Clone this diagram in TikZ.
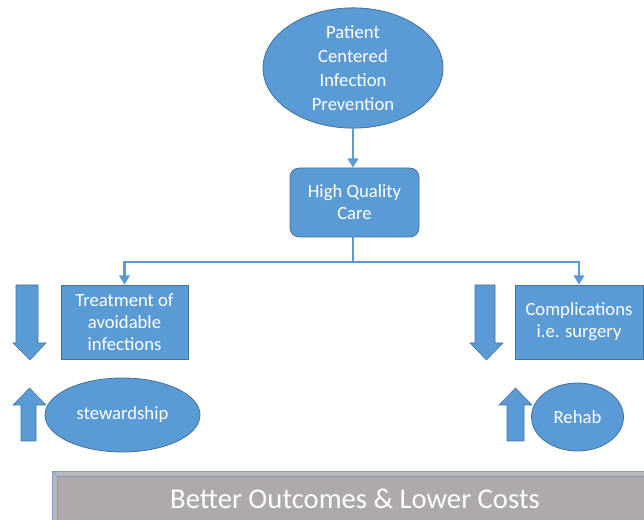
\documentclass[tikz,border=0pt]{standalone}
\usepackage{fontspec}
\setmainfont{Carlito}
\usetikzlibrary{arrows.meta,shapes.geometric}
\definecolor{blueFill}{HTML}{5B9BD5}
\definecolor{blueLine}{HTML}{41719C}
\definecolor{barFill}{HTML}{AEAAAA}
\definecolor{barLine}{HTML}{7F9DBF}
\tikzset{
  oval/.style={ellipse,fill=blueFill,draw=blueLine,line width=0.6pt,text=white,align=center,inner sep=0pt},
  carebox/.style={rectangle,fill=blueFill,draw=blueLine,line width=0.6pt,text=white,align=center,inner sep=0pt},
  link/.style={draw=blueFill,line width=2.2pt},
  blockarrow/.style={fill=blueFill,draw=blueLine,line width=0.4pt},
}
\begin{document}
\begin{tikzpicture}[x=0.75pt,y=-0.75pt,>={Triangle[width=8pt,length=7pt]},line join=miter]
\useasboundingbox (0,0) rectangle (644,520);
%%
\node (patient) at (353,68) [oval,minimum width=180*0.75pt,minimum height=114*0.75pt,font=\fontsize{14}{18}\selectfont] {Patient\\Centered\\Infection\\Prevention};
\node (care) at (354.5,202.5) [carebox,rounded corners=7pt,minimum width=129*0.75pt,minimum height=69*0.75pt,font=\fontsize{14}{16.5}\selectfont] {High Quality\\Care};
\node (treat) at (124.5,322) [carebox,minimum width=127*0.75pt,minimum height=74*0.75pt,font=\fontsize{14}{16.5}\selectfont] {Treatment of\\avoidable\\infections};
\node (compl) at (579,322) [carebox,minimum width=128*0.75pt,minimum height=74*0.75pt,font=\fontsize{14}{16.5}\selectfont] {Complications\\i.e. surgery};
\node (steward) at (122.5,415) [oval,minimum width=155*0.75pt,minimum height=74*0.75pt,font=\fontsize{14}{16.5}\selectfont] {stewardship};
\node (rehab) at (577.5,417) [oval,minimum width=92*0.75pt,minimum height=68*0.75pt,font=\fontsize{14}{16.5}\selectfont] {Rehab};
\coordinate (split) at (353,262);
%
\draw [link,->] (patient.south) -- (care.north -| patient.south);
\draw [link] (care.south -| split) -- (split);
\draw [link,->] (split) -| (treat.north);
\draw [link,->] (split) -| (compl.north);
%
% block arrows beside the boxes
\draw [blockarrow] (16,285) -- (38,285) -- (38,343) -- (46,343) -- (30,360) -- (13,343) -- (16,343) -- cycle;
\draw [blockarrow] (21,441) -- (36,441) -- (36,405) -- (46,405) -- (29.5,388) -- (13,405) -- (21,405) -- cycle;
\draw [blockarrow] (475,285) -- (495,285) -- (495,343) -- (503,343) -- (486.5,360) -- (470,343) -- (475,343) -- cycle;
\draw [blockarrow] (507,441) -- (524,441) -- (524,405) -- (532,405) -- (515.5,388) -- (499,405) -- (507,405) -- cycle;
%
% bevelled bar at the bottom
\fill [barFill!85!white] (52,471) rectangle (650,525);
\fill [barFill] (57,476) rectangle (650,525);
\draw [barLine,line width=0.6pt] (52,525) -- (52,471) -- (650,471);
\draw [barLine,line width=0.6pt] (57,525) -- (57,476) -- (650,476);
\draw [barLine,line width=0.4pt] (52,471) -- (57,476);
\node (better) at (355,499) [text=white,font=\fontsize{21.5}{24}\selectfont] {Better Outcomes \& Lower Costs};
%
\end{tikzpicture}
\end{document}
